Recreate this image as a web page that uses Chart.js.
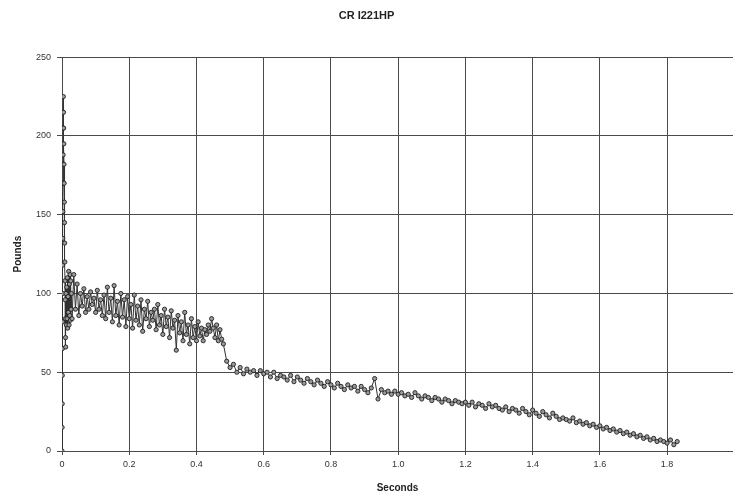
<!DOCTYPE html>
<html>
<head>
<meta charset="utf-8">
<script src="https://cdn.jsdelivr.net/npm/chart.js@4.4.1/dist/chart.umd.min.js"></script>
<style>
  html, body { margin: 0; padding: 0; background: #fff; overflow: hidden; }
  #wrap { width: 733px; height: 494px; }
</style>
</head>
<body>
<div id="wrap"><canvas id="thrustChart"></canvas></div>
<script>
// thrust trace
const chartTitle = 'CR I221HP';
const xTitle = 'Seconds';
const yTitle = 'Pounds';

const xTicks = [0, 0.2, 0.4, 0.6, 0.8, 1, 1.2, 1.4, 1.6, 1.8];
const yTicks = [0, 50, 100, 150, 200, 250];

// ignition spike (seconds, pounds)
const ignitionT = [
  0, 0.0003, 0.0006, 0.0009, 0.0012, 0.0015, 0.0018, 0.0021, 0.0024, 0.0027,
  0.0030, 0.0033, 0.0036, 0.0040, 0.0045, 0.0050, 0.0055, 0.0060, 0.0065, 0.0070,
  0.0075, 0.0080, 0.0085, 0.0090, 0.0095, 0.0100, 0.0105, 0.0110, 0.0120, 0.0130,
  0.0140, 0.0150, 0.0160, 0.0170, 0.0180, 0.0190, 0.0200, 0.0210, 0.0220, 0.0230,
  0.0240, 0.0250, 0.0260, 0.0270, 0.0280
];
const ignitionLb = [
  0, 15, 30, 48, 65, 82, 100, 118, 135, 152,
  170, 188, 205, 225, 215, 205, 195, 182, 170, 158,
  145, 132, 120, 108, 96, 84, 72, 66, 100, 80,
  104, 84, 110, 78, 98, 88, 114, 80, 106, 86,
  112, 83, 108, 90, 100
];

// boost phase, sampled every 5 ms from 0.030 s
const boostStart = 0.030;
const boostStep = 0.005;
const boostLb = [
  84, 112, 90, 106, 86, 100, 92, 103, 88, 98,
  90, 101, 93, 97, 88, 102, 90, 96, 86, 99,
  84, 104, 88, 97, 82, 105, 86, 95, 80, 100,
  85, 96, 79, 98, 84, 93, 78, 99, 83, 92,
  80, 96, 76, 90, 84, 95, 79, 88, 83, 90,
  77, 93, 80, 86, 74, 90, 79, 85, 72, 89,
  78, 83, 64, 86, 75, 82, 70, 88, 74, 80,
  68, 84, 72, 79, 70, 82, 73, 78, 70, 77,
  74, 80, 76, 84, 78, 72, 80, 70, 77, 71,
  68
];

// sustain phase, sampled every 10 ms from 0.49 s
const sustainStart = 0.49;
const sustainStep = 0.01;
const sustainLb = [
  57, 53, 55, 50, 53, 49, 52, 50, 51, 48,
  51, 49, 50, 47, 50, 46, 48, 47, 45, 48,
  44, 47, 45, 43, 46, 44, 42, 45, 43, 41,
  44, 42, 40, 43, 41, 39, 42, 40, 41, 38,
  41, 39, 37, 40, 46, 33, 39, 37, 38, 36,
  38, 36, 37, 35, 36, 34, 37, 35, 33, 35,
  34, 32, 34, 33, 31, 33, 32, 30, 32, 31,
  30, 31, 29, 31, 28, 30, 29, 27, 30, 28,
  29, 27, 26, 28, 25, 27, 26, 24, 27, 25,
  23, 26, 24, 22, 25, 23, 21, 24, 22, 20,
  21, 20, 19, 21, 18, 19, 17, 18, 16, 17,
  15, 16, 14, 15, 13, 14, 12, 13, 11, 12,
  10, 11, 9, 10, 8, 9, 7, 8, 6, 7,
  6, 5, 7, 4, 6
];

const points = [];
ignitionT.forEach((t, i) => points.push({ x: t, y: ignitionLb[i] }));
boostLb.forEach((v, i) => points.push({ x: +(boostStart + i * boostStep).toFixed(3), y: v }));
sustainLb.forEach((v, i) => points.push({ x: +(sustainStart + i * sustainStep).toFixed(3), y: v }));

const font = 'Liberation Sans, Arial, sans-serif';
const gridColor = '#4a4a4a';

new Chart(document.getElementById('thrustChart'), {
  type: 'line',
  data: {
    datasets: [{
      data: points,
      borderColor: '#333',
      borderWidth: 1,
      pointRadius: 2.1,
      pointBorderWidth: 0.9,
      pointBorderColor: '#1e1e1e',
      pointBackgroundColor: '#9a9a9a',
      tension: 0
    }]
  },
  options: {
    responsive: true,
    maintainAspectRatio: false,
    animation: false,
    layout: { padding: 0, autoPadding: false },
    plugins: {
      legend: { display: false },
      tooltip: { enabled: false },
      title: {
        display: true,
        text: chartTitle,
        color: '#222',
        font: { family: font, size: 11, weight: 'bold' },
        padding: { top: 9, bottom: 35 }
      }
    },
    scales: {
      x: {
        type: 'linear',
        min: 0,
        max: 1.996,
        afterBuildTicks: s => { s.ticks = xTicks.map(v => ({ value: v })); },
        afterFit: s => { s.height = 43; s.paddingLeft = 0; s.paddingRight = 0; },
        grid: { color: gridColor, lineWidth: 1, tickLength: 4 },
        border: { color: gridColor },
        ticks: { color: '#333', padding: 4, maxRotation: 0, font: { family: font, size: 9 } },
        title: {
          display: true,
          text: xTitle,
          color: '#222',
          font: { family: font, size: 10, weight: 'bold' },
          padding: { top: 1, bottom: 0 }
        }
      },
      y: {
        min: 0,
        max: 250,
        afterBuildTicks: s => { s.ticks = yTicks.map(v => ({ value: v })); },
        afterFit: s => { s.width = 62; },
        grid: { color: gridColor, lineWidth: 1, tickLength: 5 },
        border: { color: gridColor },
        ticks: { color: '#333', padding: 6, font: { family: font, size: 9 } },
        title: {
          display: true,
          text: yTitle,
          color: '#222',
          font: { family: font, size: 10, weight: 'bold' },
          padding: { top: 12, bottom: 0 }
        }
      }
    }
  }
});
</script>
</body>
</html>
